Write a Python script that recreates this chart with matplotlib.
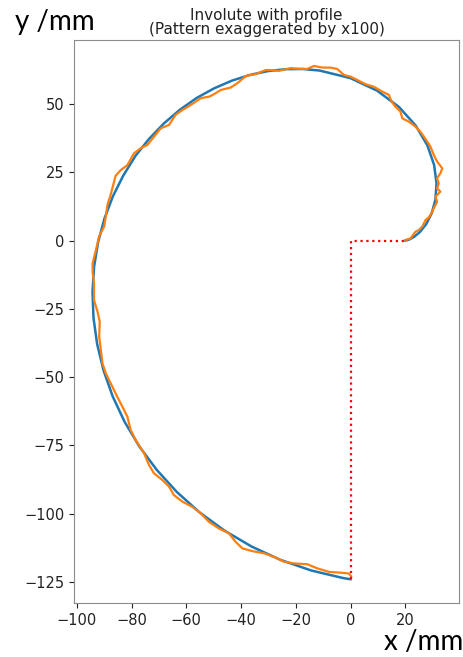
import matplotlib
matplotlib.use("Agg")
import matplotlib.pyplot as plt

# involute (blue)
inv_x = [20.0, 20.40, 21.54, 23.28, 25.41, 27.64, 29.62, 30.99, 31.40, 30.51,
         28.05, 23.80, 17.67, 9.67, -0.09, -11.33, -17.40, -23.70, -30.16, -36.71,
         -43.28, -49.80, -56.18, -62.32, -68.16, -73.62, -78.46, -83.02, -86.81, -89.89,
         -92.19, -93.66, -94.24, -93.88, -92.55, -90.22, -86.87, -82.51, -77.13, -70.76,
         -63.44, -55.19, -46.08, -36.18, -25.57, -14.33, -2.56, 0.0]
inv_y = [0.0, 0.05, 0.42, 1.39, 3.20, 6.02, 9.94, 14.95, 20.93, 27.66,
         34.83, 42.06, 48.90, 54.87, 59.46, 62.22, 62.78, 62.72, 62.02, 60.63,
         58.54, 55.72, 52.20, 47.88, 42.87, 37.16, 31.12, 23.75, 16.15, 8.01,
         -0.58, -9.56, -18.83, -28.32, -37.93, -47.54, -57.07, -66.40, -75.41, -84.00,
         -92.06, -99.49, -106.17, -112.01, -116.92, -120.81, -123.60, -124.0]

# involute with the measured profile (orange)
prof_x = [20.1, 21.9, 23.7, 24.9, 26.2, 27.4, 28.6, 29.8, 30.4, 31.6,
          31.0, 32.8, 31.6, 32.2, 31.6, 32.8, 33.5, 32.6, 31.6, 30.4,
          29.2, 28.0, 26.8, 25.5, 23.7, 21.3, 18.9, 18.2, 16.4, 15.0,
          14.0, 11.6, 8.5, 5.5, 2.4, 0.0, -2.4, -4.9, -7.3, -10.3,
          -13.4, -15.8, -18.2, -21.9, -26.2, -29.5, -31.0, -34.7, -38.3, -41.3,
          -43.8, -47.4, -49.3, -51.5, -54.7, -58.4, -61.4, -63.9, -66.3, -69.3,
          -71.8, -74.2, -76.6, -79.1, -81.5, -83.9, -85.8, -87.6, -88.8, -89.4,
          -90.0, -91.9, -92.4, -93.0, -94.2, -94.2, -93.7, -93.7, -92.4, -91.6,
          -91.8, -91.2, -90.6, -89.4, -87.6, -85.2, -83.3, -81.5, -80.3, -78.5,
          -75.4, -73.6, -71.8, -68.7, -66.3, -64.5, -61.4, -57.8, -54.7, -51.7,
          -48.1, -44.4, -42.0, -39.5, -35.9, -31.6, -28.0, -24.3, -20.7, -15.8,
          -12.2, -7.9, -3.6, -0.6, 0.2]
prof_y = [0.2, 0.8, 3.2, 3.8, 5.1, 7.5, 8.5, 10.5, 11.8, 14.2,
          16.0, 17.9, 19.1, 20.9, 22.8, 24.6, 26.4, 27.6, 28.9, 31.3,
          34.3, 36.2, 38.0, 39.8, 41.7, 43.5, 44.7, 47.2, 49.0, 50.8,
          53.3, 54.5, 56.3, 57.2, 58.8, 60.0, 60.6, 62.8, 63.3, 63.3,
          63.9, 62.8, 62.8, 63.1, 62.1, 62.4, 62.4, 60.9, 60.2, 57.6,
          56.0, 55.1, 53.9, 52.7, 52.1, 49.6, 47.8, 46.0, 42.3, 41.1,
          38.0, 35.0, 33.8, 31.9, 27.6, 25.8, 23.7, 16.8, 13.0, 8.7,
          5.1, 1.4, -1.0, -3.5, -8.4, -11.4, -15.7, -21.8, -26.1, -29.7,
          -35.2, -40.1, -45.0, -48.6, -52.3, -57.2, -60.9, -64.5, -69.4, -73.0,
          -77.9, -82.2, -85.2, -87.7, -90.1, -93.2, -95.6, -97.5, -99.9, -103.0,
          -105.4, -107.2, -110.3, -112.7, -113.7, -114.5, -115.8, -117.6, -118.2, -118.5,
          -120.0, -121.3, -121.6, -121.9, -122.9]

# base construction (red dotted)
base_x = [0, 0, 20]
base_y = [-124.0, 0, 0]

xticks = [-100, -80, -60, -40, -20, 0, 20]
yticks = [-125, -100, -75, -50, -25, 0, 25, 50]

fig = plt.figure(figsize=(4.64, 6.57), dpi=100)
ax = fig.add_axes([74 / 464, 54 / 657, 385 / 464, 563 / 657])

ax.plot(inv_x, inv_y, color="#1f77b4", lw=1.8, solid_joinstyle="round")
ax.plot(prof_x, prof_y, color="#ff7f0e", lw=1.6, solid_joinstyle="round")
ax.plot(base_x, base_y, color="red", ls=":", lw=1.6)

ax.set_xlim(-101.0, 39.6)
ax.set_ylim(-132.7, 73.4)
ax.set_xticks(xticks)
ax.set_yticks(yticks)
ax.tick_params(labelsize=10.5, colors="#222222")
for s in ax.spines.values():
    s.set_color("0.55")

ax.set_title("Involute with profile\n(Pattern exaggerated by x100)",
             fontsize=11, color="#222222", pad=4, linespacing=0.95)

fig.text(15 / 464, 1 - 30 / 657, "y /mm", fontsize=20, family="Lato")
fig.text(463 / 464, 1 - 650 / 657, "x /mm", fontsize=20, family="Lato", ha="right")

fig.savefig("out.png", dpi=100)
